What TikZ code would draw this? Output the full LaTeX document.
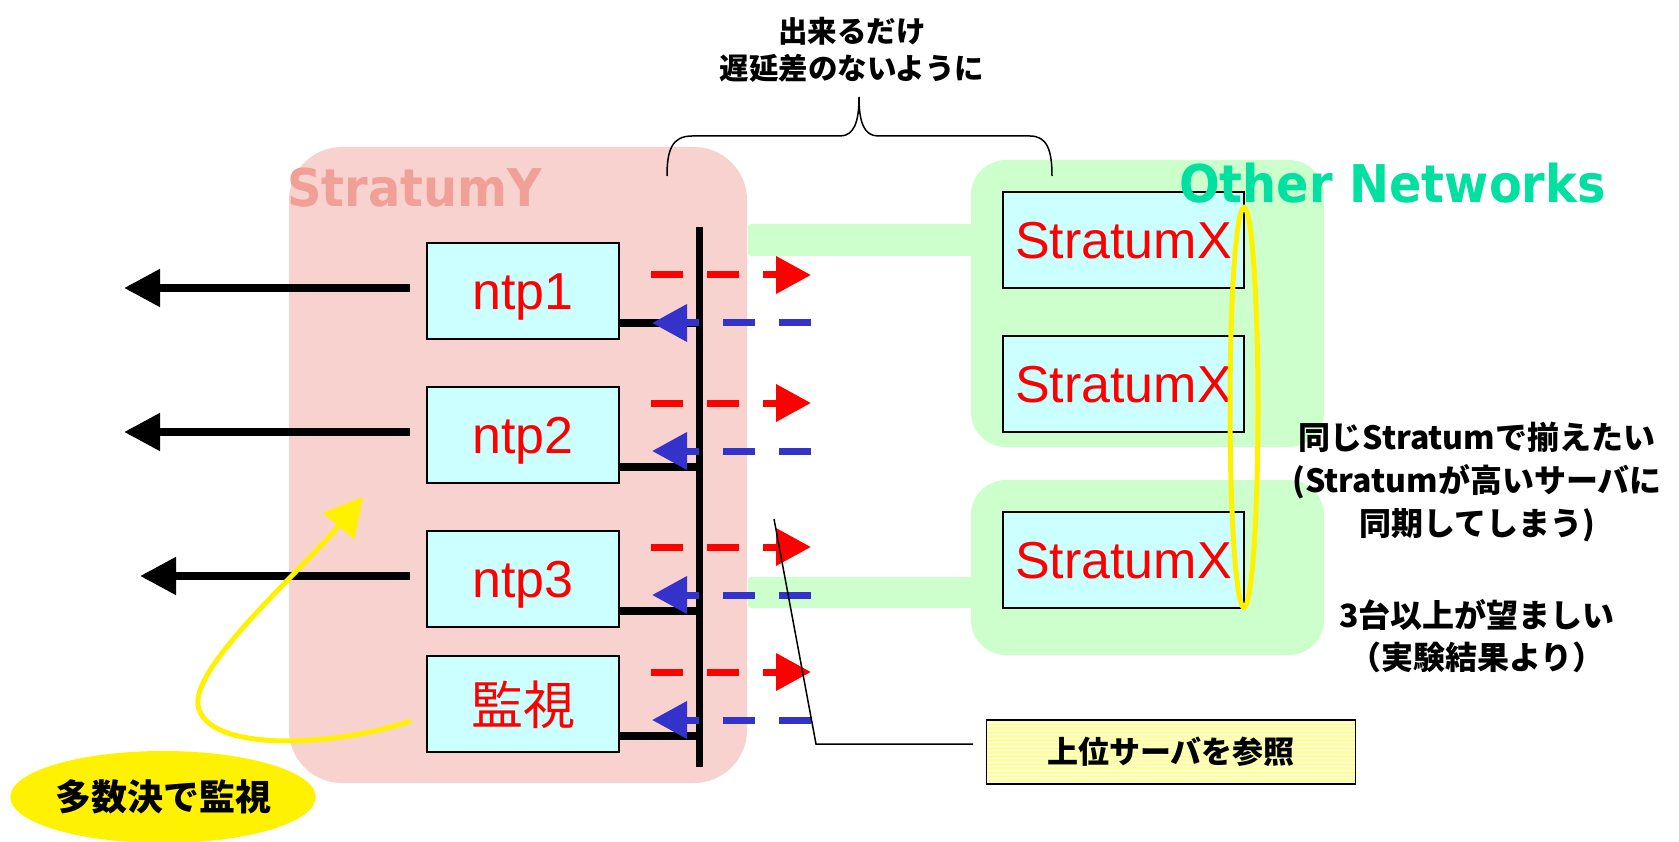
\documentclass[tikz,border=0pt]{standalone}
\usepackage{fontspec}
\newfontfamily\jp{Noto Sans CJK JP}
\newfontfamily\lib{Liberation Sans}
\newfontfamily\dv{DejaVu Sans}
\usetikzlibrary{arrows.meta,shapes.geometric}
\definecolor{pinkbg}{HTML}{F7D2CF}
\definecolor{greenbg}{HTML}{CCFFCC}
\definecolor{cyanbox}{HTML}{CCFFFF}
\definecolor{salmonlbl}{HTML}{F0A096}
\definecolor{greenlbl}{HTML}{00E0A0}
\definecolor{dblue}{HTML}{3333CC}
\definecolor{pyellow}{HTML}{FFFF99}
\begin{document}
\begin{tikzpicture}[x=1pt,y=-1pt,
  srv/.style={draw=black,line width=2pt,fill=cyanbox,minimum width=192pt,minimum height=96pt,inner sep=0pt,text=red,
     font=\lib\fontsize{52}{60}\selectfont,text height=37pt,text depth=0pt},
  srvx/.style={srv,minimum width=241pt},
  srvjp/.style={srv,font=\jp\fontsize{52}{60}\selectfont,text height=40pt},
  conn/.style={line width=7.5pt},
  blk/.style={line width=8pt,-{Triangle[length=36pt,width=36pt]}},
  reddash/.style={red,line width=7pt,dash pattern=on 32pt off 24pt,-{Triangle[length=35pt,width=36pt]}},
  bluedash/.style={dblue,line width=7pt,dash pattern=on 32pt off 24pt,-{Triangle[length=35pt,width=36pt]}},
  biglbl/.style={font=\dv\bfseries\fontsize{52}{60}\selectfont,anchor=base west,inner sep=0pt}
]
\fill[white] (0,0) rectangle (1679,842);
\useasboundingbox (0,0) rectangle (1679,842);

% backgrounds
\fill[pinkbg,rounded corners=53pt] (289,147) rectangle (747,783);
\fill[greenbg,rounded corners=35pt] (971,160) rectangle (1324,447);
\fill[greenbg,rounded corners=35pt] (971,480) rectangle (1324,655);
\fill[greenbg,rounded corners=3pt] (748,224) rectangle (980,256);
\fill[greenbg,rounded corners=3pt] (748,577) rectangle (980,608);

\node[biglbl,text=salmonlbl] (sy) at (287,207) {\scalebox{0.92}[1]{StratumY}};

% servers
\node[srv] (n1) at (523,291) {ntp1};
\node[srv] (n2) at (523,435) {ntp2};
\node[srv] (n3) at (523,579) {ntp3};
\node[srvjp] (mon) at (523,704) {監視};

\node[srvx] (x1) at (1123.5,240) {StratumX};
\node[srvx] (x2) at (1123.5,384) {StratumX};
\node[srvx] (x3) at (1123.5,560) {StratumX};

\node[biglbl,text=greenlbl] (on) at (1179,203) {\scalebox{0.92}[1]{Other Networks}};

% bus
\coordinate (bt) at (699,227);
\coordinate (bb) at (699,767);
\draw[line width=7pt] (bt) -- (bb);
\draw[conn] ([yshift=-32pt]n1.east) -- ([yshift=-32pt]n1.east -| bt);
\draw[conn] ([yshift=-32pt]n2.east) -- ([yshift=-32pt]n2.east -| bt);
\draw[conn] ([yshift=-32pt]n3.east) -- ([yshift=-32pt]n3.east -| bt);
\draw[conn] ([yshift=-32pt]mon.east) -- ([yshift=-32pt]mon.east -| bt);

% outgoing arrows to the left
\coordinate (o1) at (124,288);
\coordinate (o2) at (124,432);
\coordinate (o3) at (140,576);
\draw[blk] ([xshift=-16pt,yshift=3pt]n1.west) -- (o1);
\draw[blk] ([xshift=-16pt,yshift=3pt]n2.west) -- (o2);
\draw[blk] ([xshift=-16pt,yshift=3pt]n3.west) -- (o3);

% request / response arrows
\foreach \r/\b [count=\i] in {275/323,403/451,547/595,672/720}{
  \coordinate (rs\i) at (651,\r);
  \coordinate (re\i) at (811,\r);
  \coordinate (bs\i) at (811,\b);
  \coordinate (be\i) at (652,\b);
  \draw[reddash] (rs\i) -- (re\i);
  \draw[bluedash] (bs\i) -- (be\i);
}

% same stratum ellipse
\draw[yellow,line width=5pt] (1244,407.5) ellipse [x radius=14,y radius=200];

% brace and its text
\draw[line width=1.5pt] (667,176) .. controls (667,150) and (672,136) .. (692,136) -- (840,136)
   .. controls (854,136) and (859,122) .. (859,97)
   .. controls (859,122) and (864,136) .. (878,136) -- (1030,136)
   .. controls (1047,136) and (1052,150) .. (1052,176);
\node[align=center,font=\jp\bfseries\fontsize{29.5}{37}\selectfont] (top) at (852,50) {出来るだけ\\遅延差のないように};

% right notes
\node[align=center,font=\jp\bfseries\fontsize{32}{43}\selectfont] (r1) at (1477,482)
  {同じStratumで揃えたい\\(Stratumが高いサーバに\\同期してしまう)};
\node[align=center,font=\jp\bfseries\fontsize{32}{42}\selectfont] (r2) at (1477,636)
  {3台以上が望ましい\\（実験結果より）};

% reference box with callout
\node[draw=black,line width=1.5pt,fill=pyellow,minimum width=369pt,minimum height=64pt,inner sep=0pt,
  font=\jp\bfseries\fontsize{31}{36}\selectfont,
  path picture={\foreach \k in {2,6,...,62}
     \draw[white,line width=1pt] ([yshift=-\k pt]path picture bounding box.north west) -- ([yshift=-\k pt]path picture bounding box.north east);}]
  (ref) at (1171,752) {上位サーバを参照};
\coordinate (c1) at (774,519);
\coordinate (c2) at (816,744);
\coordinate (c3) at (973,744);
\draw[line width=1.5pt] (c1) -- (c2) -- (c3);

% majority vote
\node[ellipse,fill=yellow,minimum width=303pt,minimum height=92pt,inner sep=0pt,
  font=\jp\bfseries\fontsize{36}{40}\selectfont] (vote) at (163,797) {多数決で監視};
\coordinate (ys) at (411,721);
\coordinate (ye) at (363,497);
\draw[yellow,line width=5pt,-{Triangle[length=38pt,width=40pt]}] (ys)
   .. controls (330,748) and (205,752) .. (198,705)
   .. controls (193,665) and (300,572) .. (ye);
\end{tikzpicture}
\end{document}
